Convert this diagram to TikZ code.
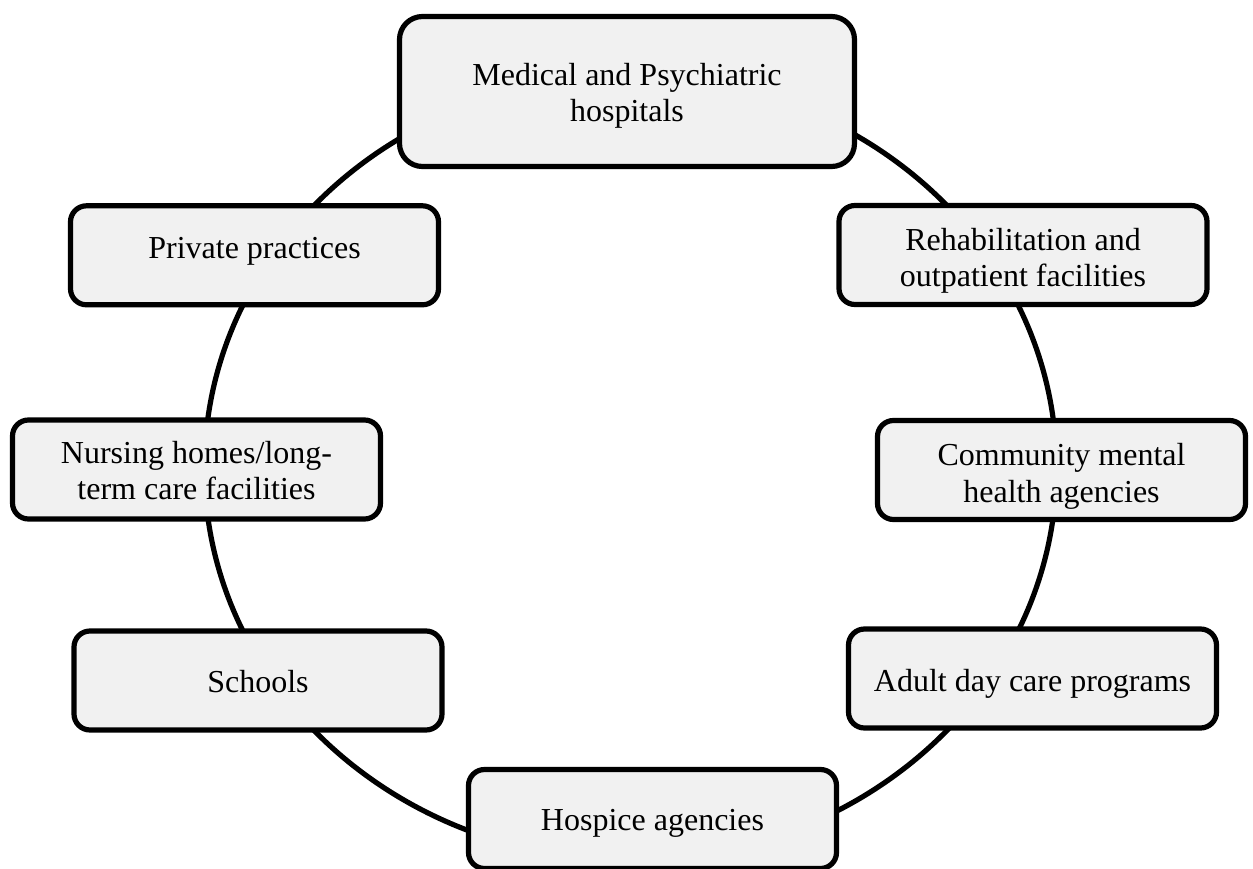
\documentclass[tikz,border=0pt]{standalone}
\usepackage{fontspec}
\setmainfont{Liberation Serif}
\definecolor{boxfill}{HTML}{F1F1F1}
\begin{document}
\begin{tikzpicture}[x=1pt,y=-1pt,
  ring/.style={draw=black, line width=5.2pt},
  place/.style={draw=black, line width=5.2pt, fill=boxfill, rounded corners=16pt,
    minimum width=368pt, minimum height=99pt, inner sep=0pt},
  bigplace/.style={place, rounded corners=23pt, minimum width=455pt, minimum height=150pt},
  caption/.style={font=\fontsize{32}{36.8}\selectfont, align=center, inner sep=0pt}
]
\useasboundingbox (0,0) rectangle (1253,868);

% the ring that joins all settings
\coordinate (hub) at (630.5,468);
\draw[ring] (hub) ellipse [x radius=426pt, y radius=392pt];

% boxes
\node[bigplace] (med)   at (627,91.5)   {};
\node[place]    (priv)  at (254.5,255.3) {};
\node[place]    (rehab) at (1023,255)   {};
\node[place]    (nurs)  at (196.5,469.5) {};
\node[place]    (comm)  at (1061.5,470) {};
\node[place]    (sch)   at (258,680.5)  {};
\node[place]    (adult) at (1032.5,678.5) {};
\node[place]    (hosp)  at (652.5,819)  {};

% captions
\node[caption] (med-t)   at ([yshift=-4.6pt]med.center)   {\strut Medical and Psychiatric\\hospitals\strut};
\node[caption] (priv-t)  at ([yshift=4.3pt]priv.center)   {\strut Private practices};
\node[caption] (rehab-t) at ([yshift=-6.2pt]rehab.center) {\strut Rehabilitation and\\outpatient facilities\strut};
\node[caption] (nurs-t)  at ([yshift=-4.7pt]nurs.center)  {\strut Nursing homes/long-\\term care facilities\strut};
\node[caption] (comm-t)  at ([yshift=-6.7pt]comm.center)  {\strut Community mental\\health agencies\strut};
\node[caption] (sch-t)   at ([yshift=-4.2pt]sch.center)   {\strut Schools};
\node[caption] (adult-t) at ([yshift=-5.9pt]adult.center) {\strut Adult day care programs};
\node[caption] (hosp-t)  at ([yshift=-3.7pt]hosp.center)  {\strut Hospice agencies};
\end{tikzpicture}
\end{document}
